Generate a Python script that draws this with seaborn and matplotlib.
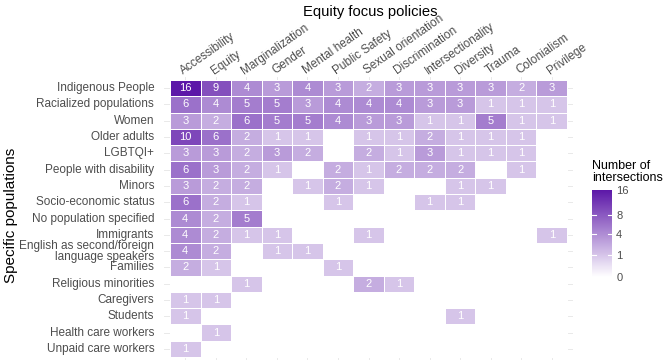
import numpy as np
import pandas as pd
import matplotlib
matplotlib.use("Agg")
import matplotlib.pyplot as plt
import matplotlib.transforms as mtransforms
import seaborn as sns
from matplotlib.colors import LinearSegmentedColormap, PowerNorm

policies = ["Accessibility", "Equity", "Marginalization", "Gender", "Mental health",
            "Public Safety", "Sexual orientation", "Discrimination", "Intersectionality",
            "Diversity", "Trauma", "Colonialism", "Privilege"]
populations = ["Indigenous People", "Racialized populations", "Women", "Older adults",
               "LGBTQI+", "People with disability", "Minors", "Socio-economic status",
               "No population specified", "Immigrants",
               "English as second/foreign\nlanguage speakers", "Families",
               "Religious minorities", "Caregivers", "Students", "Health care workers",
               "Unpaid care workers"]

indigenous   = [16, 9, 4, 3, 4, 3, 2, 3, 3, 3, 3, 2, 3]
racialized   = [6, 4, 5, 5, 3, 4, 4, 4, 3, 3, 1, 1, 1]
women        = [3, 2, 6, 5, 5, 4, 3, 3, 1, 1, 5, 1, 1]
older        = [10, 6, 2, 1, 1, 0, 1, 1, 2, 1, 1, 1, 0]
lgbtqi       = [3, 3, 2, 3, 2, 0, 2, 1, 3, 1, 1, 1, 0]
disability   = [6, 3, 2, 1, 0, 2, 1, 2, 2, 2, 0, 1, 0]
minors       = [3, 2, 2, 0, 1, 2, 1, 0, 0, 1, 1, 0, 0]
socioecon    = [6, 2, 1, 0, 0, 1, 0, 0, 1, 1, 0, 0, 0]
nopop        = [4, 2, 5, 0, 0, 0, 0, 0, 0, 0, 0, 0, 0]
immigrants   = [4, 2, 1, 1, 0, 0, 1, 0, 0, 0, 0, 0, 1]
esl          = [4, 2, 0, 1, 1, 0, 0, 0, 0, 0, 0, 0, 0]
families     = [2, 1, 0, 0, 0, 1, 0, 0, 0, 0, 0, 0, 0]
religious    = [0, 0, 1, 0, 0, 0, 2, 1, 0, 0, 0, 0, 0]
caregivers   = [1, 1, 0, 0, 0, 0, 0, 0, 0, 0, 0, 0, 0]
students     = [1, 0, 0, 0, 0, 0, 0, 0, 0, 1, 0, 0, 0]
healthcare   = [0, 1, 0, 0, 0, 0, 0, 0, 0, 0, 0, 0, 0]
unpaid       = [1, 0, 0, 0, 0, 0, 0, 0, 0, 0, 0, 0, 0]

rows = [indigenous, racialized, women, older, lgbtqi, disability, minors, socioecon,
        nopop, immigrants, esl, families, religious, caregivers, students, healthcare, unpaid]
df = pd.DataFrame(rows, index=populations, columns=policies)
annot = df.map(lambda v: str(v) if v > 0 else "")

plt.rcParams['font.family'] = ['Liberation Sans', 'DejaVu Sans']

W, H = 669, 363
fig = plt.figure(figsize=(W / 100, H / 100), dpi=100)

nr, nc = df.shape
# tile region in pixels
tx0, tx1, ty0, ty1 = 170, 567, 80, 357
cw = (tx1 - tx0) / nc
ch = (ty1 - ty0) / nr
ex = 0.2
ax = fig.add_axes([(tx0 - ex * cw) / W, 1 - (ty1 + ex * ch) / H,
                   (tx1 - tx0 + 2 * ex * cw) / W, (ty1 - ty0 + 2 * ex * ch) / H])
cax = fig.add_axes([592 / W, 1 - 277 / H, 20 / W, 87 / H])

cmap = LinearSegmentedColormap.from_list("wp", ["#ffffff", "#5C17A8"])
norm = PowerNorm(gamma=0.5, vmin=0, vmax=16)

sns.heatmap(df, ax=ax, cmap=cmap, norm=norm, annot=annot, fmt="",
            annot_kws={"color": "white", "fontsize": 8},
            linewidths=0.6, linecolor="white", cbar_ax=cax,
            cbar_kws={"ticks": [0, 1, 4, 8, 16]})

ax.set_xlim(-ex, nc + ex)
ax.set_ylim(nr + ex, -ex)
for i in range(nr):
    ax.axhline(i + 0.5, color="#e5e5e5", lw=0.6, zorder=0)
for j in range(nc):
    ax.axvline(j + 0.5, color="#e5e5e5", lw=0.6, zorder=0)
for c in ax.collections:
    c.set_zorder(1)

ax.xaxis.tick_top()
ax.set_xticks(np.arange(nc) + 0.5)
ax.set_xticklabels(policies, rotation=35, ha="left", va="bottom",
                   rotation_mode="anchor", fontsize=8.5, color="#4d4d4d")
off = mtransforms.ScaledTranslation(-8 / 100, -1 / 100, fig.dpi_scale_trans)
for lab in ax.get_xticklabels():
    lab.set_transform(lab.get_transform() + off)
ax.set_yticks(np.arange(nr) + 0.5)
ax.set_yticklabels(populations, rotation=0, fontsize=8.5, color="#4d4d4d",
                   linespacing=0.9)
ax.tick_params(axis="y", length=0, pad=7)
ax.tick_params(axis="x", length=0, pad=0)
ax.set_xlabel("")
ax.set_ylabel("")
fig.text(11 / W, 1 - 215 / H, "Specific populations", rotation=90,
         ha="center", va="center", fontsize=11)

fig.text(370 / W, 1 - 12 / H, "Equity focus policies", ha="center", va="center",
         fontsize=10.6)

cax.tick_params(length=0, labelsize=8, colors="#4d4d4d", pad=3)
cbar = ax.collections[0].colorbar
cbar.outline.set_visible(False)
for t in [1, 4, 8]:
    cax.axhline(t, xmin=0, xmax=0.2, color="white", lw=0.8)
    cax.axhline(t, xmin=0.8, xmax=1, color="white", lw=0.8)
fig.text(592 / W, 1 - 172 / H, "Number of\nintersections", ha="left", va="center",
         fontsize=9, linespacing=1.0)

for s in ax.spines.values():
    s.set_visible(False)

fig.savefig("out.png", dpi=100)
